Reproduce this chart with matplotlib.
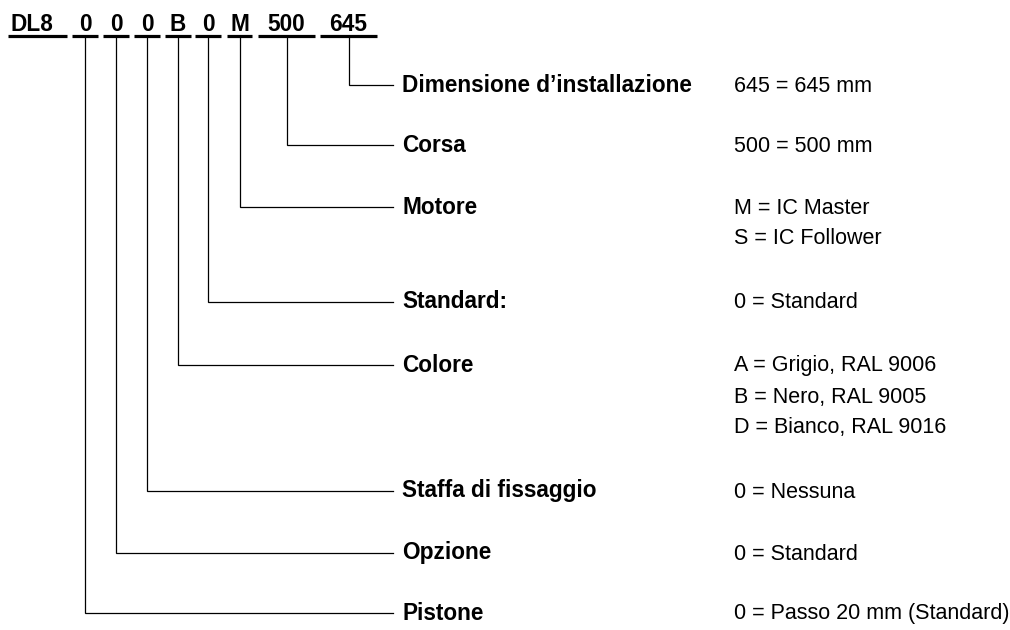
import matplotlib
matplotlib.use("Agg")
import matplotlib.pyplot as plt

# ---- content ----
code_parts = ["DL8", "0", "0", "0", "B", "0", "M", "500", "645"]
field_labels = ["Dimensione d\u2019installazione", "Corsa", "Motore", "Standard:",
                "Colore", "Staffa di fissaggio", "Opzione", "Pistone"]
field_part_index = [8, 7, 6, 5, 4, 3, 2, 1]
field_values = [
    ["645 = 645 mm"],
    ["500 = 500 mm"],
    ["M = IC Master", "S = IC Follower"],
    ["0 = Standard"],
    ["A = Grigio, RAL 9006", "B = Nero, RAL 9005", "D = Bianco, RAL 9016"],
    ["0 = Nessuna"],
    ["0 = Standard"],
    ["0 = Passo 20 mm (Standard)"],
]

# ---- layout (pixels, y downward) ----
W, H = 1010, 630
seg_left = [8, 72, 103, 134, 165, 195, 227, 258, 320]
seg_right = [67, 98, 129, 160, 191, 221, 252, 315, 377]
code_baseline = 31
underline_y = 36
row_y = [85, 145, 207, 302, 365, 491, 553, 613]
line_end_x = 393
label_x = 402
value_x = 734
value_step = 31
FS = 15.5
FS_B = 16.3
FAM = ["Liberation Sans", "DejaVu Sans"]

fig = plt.figure(figsize=(W / 100, H / 100), dpi=100)
ax = fig.add_axes([0, 0, 1, 1])
ax.set_xlim(0, W)
ax.set_ylim(H, 0)
ax.axis("off")

for i, part in enumerate(code_parts):
    l, r = seg_left[i], seg_right[i]
    ax.plot([l, r], [underline_y, underline_y], color="black", lw=2.3,
            solid_capstyle="butt")
    if i == 0:
        ax.text(l + 2, code_baseline, part, fontsize=FS_B, fontweight="bold",
                family=FAM, ha="left", va="baseline")
    else:
        ax.text((l + r) / 2, code_baseline, part, fontsize=FS_B, fontweight="bold",
                family=FAM, ha="center", va="baseline")

for k, lab in enumerate(field_labels):
    i = field_part_index[k]
    cx = (seg_left[i] + seg_right[i]) / 2
    y = row_y[k]
    ax.plot([cx, cx, line_end_x], [underline_y, y, y], color="black", lw=0.9,
            solid_joinstyle="miter")
    ax.text(label_x, y + 6.5, lab, fontsize=FS_B, fontweight="bold", family=FAM,
            ha="left", va="baseline")
    for j, v in enumerate(field_values[k]):
        ax.text(value_x, y + 6.5 + j * value_step, v, fontsize=FS, family=FAM,
                ha="left", va="baseline")

fig.savefig("out.png", dpi=100, facecolor="white")
